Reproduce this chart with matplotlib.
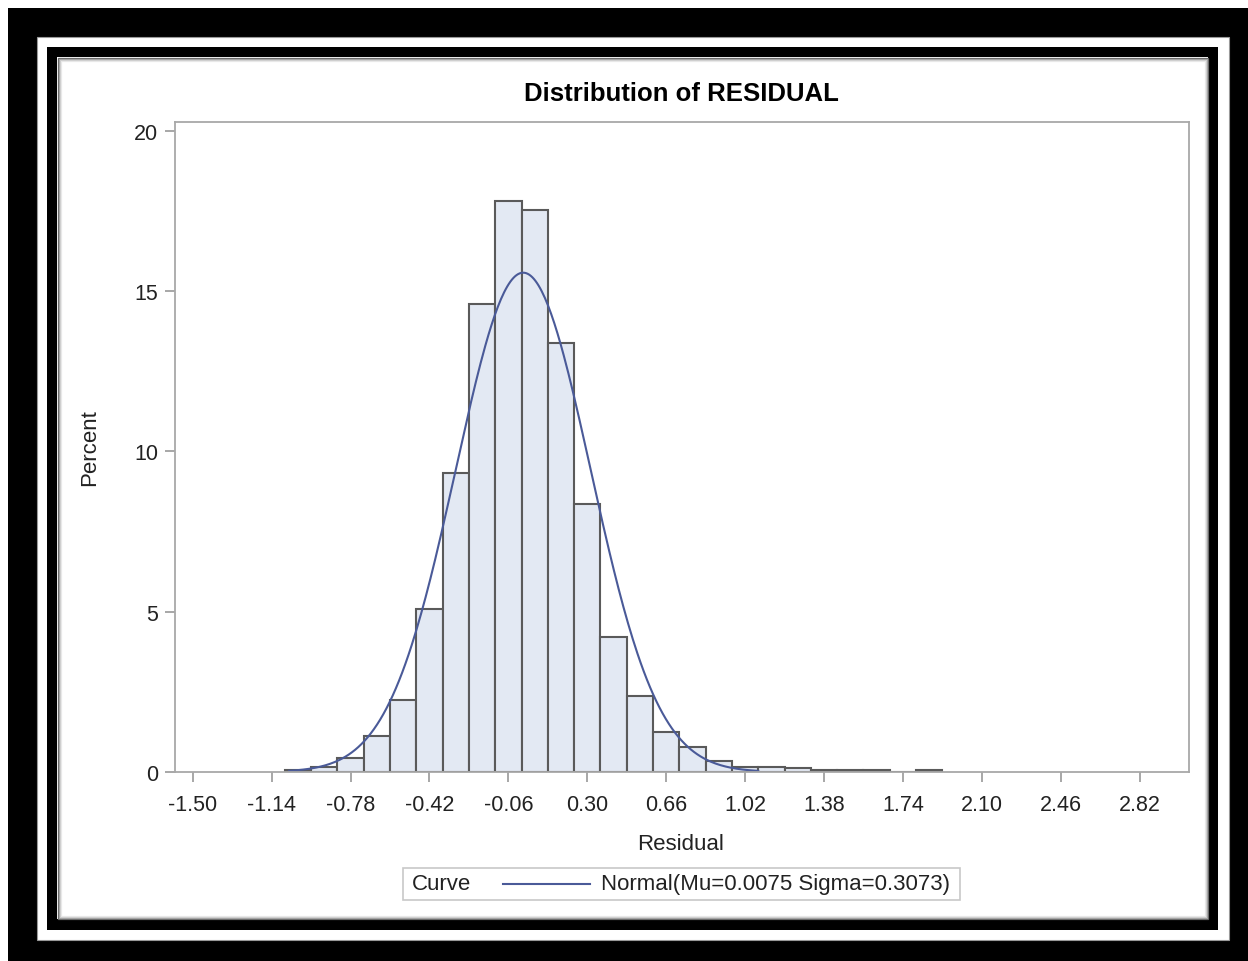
import matplotlib
matplotlib.use("Agg")
import matplotlib.pyplot as plt
import numpy as np
from matplotlib.patches import Rectangle
from matplotlib.lines import Line2D

plt.rcParams['font.family'] = ['Liberation Sans', 'DejaVu Sans']

# histogram data (percent per 0.12-wide bin)
bin_mid = [-1.02, -0.90, -0.78, -0.66, -0.54, -0.42, -0.30, -0.18, -0.06, 0.06,
           0.18, 0.30, 0.42, 0.54, 0.66, 0.78, 0.90, 1.02, 1.14, 1.26,
           1.38, 1.50, 1.62, 1.74, 1.86]
percent = [0.05, 0.15, 0.45, 1.12, 2.25, 5.10, 9.33, 14.60, 17.80, 17.52,
           13.38, 8.36, 4.21, 2.36, 1.24, 0.79, 0.34, 0.16, 0.16, 0.11,
           0.05, 0.05, 0.05, 0.0, 0.05]
bin_width = 0.12
mu, sigma = 0.0075, 0.3073
curve_range = (-1.06, 1.08)
xticks = [-1.50, -1.14, -0.78, -0.42, -0.06, 0.30, 0.66, 1.02, 1.38, 1.74, 2.10, 2.46, 2.82]
yticks = [0, 5, 10, 15, 20]

W, H = 1248, 962
fig = plt.figure(figsize=(W / 100, H / 100), dpi=100)
fig.patch.set_facecolor('white')

def px_rect(x0, y0, x1, y1, **kw):
    # rectangle given in pixel coords (origin top-left)
    r = Rectangle((x0 / W, 1 - y1 / H), (x1 - x0) / W, (y1 - y0) / H,
                  transform=fig.transFigure, **kw)
    fig.patches.append(r)

# picture frame
px_rect(8, 9, 1248, 962, facecolor='black', edgecolor='none', zorder=-5)
px_rect(37, 38, 1229, 941, facecolor='white', edgecolor='#999999', linewidth=0.8, zorder=-4)
px_rect(47, 48, 1218, 931, facecolor='black', edgecolor='none', zorder=-3)
px_rect(57, 58, 1208, 920, facecolor='white', edgecolor='none', zorder=-2)
# soft inner shadow
for i, g in enumerate(['#666666', '#a0a0a0', '#cccccc', '#e8e8e8']):
    px_rect(57.5 + i, 58.5 + i, 1207.5 - i, 919.5 - i,
            facecolor='none', edgecolor=g, linewidth=0.9, zorder=-1)

ax = fig.add_axes([175 / W, 1 - 773 / H, (1189 - 175) / W, (773 - 123) / H])
ax.set_zorder(2)
ax.set_facecolor('white')

ax.bar(bin_mid, percent, width=bin_width, color='#e3e9f3', edgecolor='#5a5a5a',
       linewidth=1.5, zorder=2)

xs = np.linspace(curve_range[0], curve_range[1], 300)
ys = 100 * bin_width / (sigma * np.sqrt(2 * np.pi)) * np.exp(-0.5 * ((xs - mu) / sigma) ** 2)
ax.plot(xs, ys, color='#4a5a98', linewidth=1.5, zorder=3)

ax.set_xlim(-1.581, 3.045)
ax.set_ylim(0, 20.28)
ax.set_xticks(xticks)
ax.set_xticklabels(['%.2f' % v for v in xticks])
ax.set_yticks(yticks)
for s in ax.spines.values():
    s.set_color('#a8a8a8')
    s.set_linewidth(1.3)
    s.set_zorder(4)
ax.tick_params(axis='both', colors='#a0a0a0', labelcolor='#222222', labelsize=15.5,
               length=7, width=1.3, direction='out')
ax.tick_params(axis='x', pad=9)
ax.tick_params(axis='y', pad=5)

fig.text(681 / W, 1 - 94 / H, 'Distribution of RESIDUAL', ha='center', va='center',
         fontsize=18.5, fontweight='bold', color='black')
fig.text(681 / W, 1 - 844 / H, 'Residual', ha='center', va='center', fontsize=16, color='#222222')
fig.text(90 / W, 1 - 448 / H, 'Percent', ha='center', va='center', rotation=90,
         fontsize=16, color='#222222')

# legend box
px_rect(403, 869, 960, 901, facecolor='white', edgecolor='#c8c8c8', linewidth=1.2, zorder=5)
fig.text(412 / W, 1 - 885 / H, 'Curve', ha='left', va='center', fontsize=16, color='#222222', zorder=6)
fig.lines.append(Line2D([503 / W, 590 / W], [1 - 885 / H, 1 - 885 / H], transform=fig.transFigure,
                        color='#4a5a98', linewidth=1.5, zorder=6))
fig.text(601 / W, 1 - 885 / H, 'Normal(Mu=%.4f Sigma=%.4f)' % (mu, sigma), ha='left', va='center',
         fontsize=16, color='#222222', zorder=6)

fig.savefig('out.png', dpi=100)
